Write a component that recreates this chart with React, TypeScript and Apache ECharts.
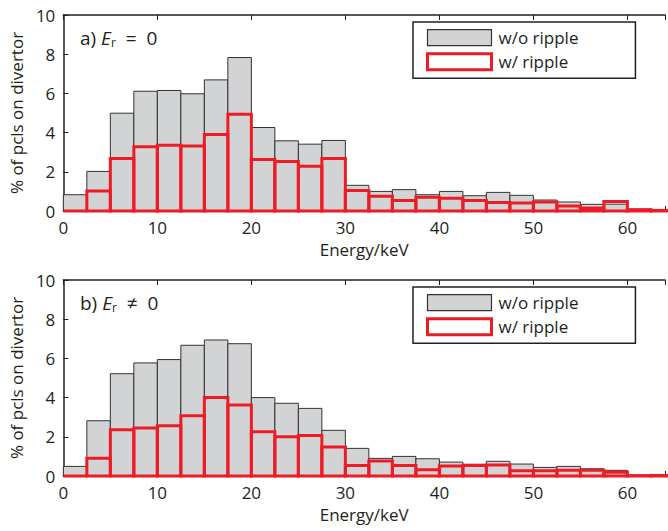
import React, { useEffect, useRef } from "react";
import * as echarts from "echarts";

const binStart = [0, 2.5, 5, 7.5, 10, 12.5, 15, 17.5, 20, 22.5, 25, 27.5, 30, 32.5, 35, 37.5, 40, 42.5, 45, 47.5, 50, 52.5, 55, 57.5, 60, 62.5];
const binWidth = 2.5;

const noRippleA = [0.83, 2.02, 4.99, 6.11, 6.15, 5.98, 6.69, 7.83, 4.26, 3.58, 3.41, 3.6, 1.31, 1.0, 1.09, 0.83, 1.0, 0.78, 0.95, 0.8, 0.56, 0.46, 0.34, 0.35, 0.07, 0.03];
const rippleA = [0.0, 1.02, 2.68, 3.28, 3.36, 3.31, 3.9, 4.94, 2.63, 2.53, 2.28, 2.68, 1.05, 0.75, 0.53, 0.7, 0.65, 0.53, 0.44, 0.41, 0.46, 0.25, 0.15, 0.48, 0.07, 0.03];
const noRippleB = [0.49, 2.82, 5.22, 5.77, 5.94, 6.67, 6.94, 6.75, 4.0, 3.71, 3.45, 2.33, 1.41, 0.9, 1.0, 0.88, 0.71, 0.6, 0.75, 0.61, 0.44, 0.49, 0.37, 0.29, 0.02, 0.02];
const rippleB = [0.0, 0.9, 2.36, 2.45, 2.57, 3.08, 4.0, 3.62, 2.26, 2.0, 2.07, 1.48, 0.54, 0.76, 0.54, 0.32, 0.51, 0.53, 0.56, 0.27, 0.27, 0.29, 0.29, 0.19, 0.02, 0.03];

const yTicks = [0, 2, 4, 6, 8, 10];
const xTickLabels = [0, 10, 20, 30, 40, 50, 60];
const seriesNames = ["w/o ripple", "w/ ripple"];

const GRAY = "#d1d3d4";
const RED = "#ed1c24";
const INK = "#231f20";
const FONT = "Open Sans";

function histData(vals: number[]) {
  return binStart.map((s, i) => [s, s + binWidth, vals[i]]);
}

function makeRender(fill: string, stroke: string, lw: number) {
  return (params: any, api: any) => {
    const x0 = api.value(0);
    const x1 = api.value(1);
    const y = api.value(2);
    const p0 = api.coord([x0, 0]);
    const p1 = api.coord([x1, y]);
    return {
      type: "rect",
      shape: { x: p0[0], y: p1[1], width: p1[0] - p0[0], height: p0[1] - p1[1] },
      style: { fill, stroke, lineWidth: lw },
    };
  };
}

export default function App() {
  const ref = useRef<HTMLDivElement>(null);
  useEffect(() => {
    const chart = echarts.init(ref.current!, null, { renderer: "svg" });
    const grids = [
      { left: 63, top: 15, width: 605, height: 196 },
      { left: 63, top: 280, width: 605, height: 196 },
    ];
    const xAxes: any[] = [];
    const yAxes: any[] = [];
    [0, 1].forEach((g) => {
      xAxes.push({
        type: "value",
        gridIndex: g,
        min: 0,
        max: 64,
        interval: 10,
        position: "bottom",
        splitLine: { show: false },
        axisLine: { show: true, onZero: false, lineStyle: { color: INK, width: 1.5 } },
        axisTick: { show: true, inside: true, length: 5, lineStyle: { color: INK } },
        axisLabel: {
          color: INK,
          fontFamily: FONT,
          fontSize: 17,
          margin: 8,
          formatter: (v: number) => (xTickLabels.includes(v) ? String(v) : ""),
        },
        name: "Energy/keV",
        nameLocation: "middle",
        nameGap: 30,
        nameTextStyle: { color: INK, fontFamily: FONT, fontSize: 17 },
      });
      xAxes.push({
        type: "value",
        gridIndex: g,
        min: 0,
        max: 64,
        interval: 10,
        position: "top",
        splitLine: { show: false },
        axisLine: { show: true, onZero: false, lineStyle: { color: INK, width: 1.5 } },
        axisTick: { show: true, inside: true, length: 5, lineStyle: { color: INK } },
        axisLabel: { show: false },
      });
      yAxes.push({
        type: "value",
        gridIndex: g,
        min: yTicks[0],
        max: yTicks[yTicks.length - 1],
        interval: 2,
        splitLine: { show: false },
        axisLine: { show: true, lineStyle: { color: INK, width: 1.5 } },
        axisTick: { show: true, inside: true, length: 5, lineStyle: { color: INK } },
        axisLabel: { color: INK, fontFamily: FONT, fontSize: 17, margin: 8 },
        name: "% of pcls on divertor",
        nameLocation: "middle",
        nameGap: 35,
        nameRotate: 90,
        nameTextStyle: { color: INK, fontFamily: FONT, fontSize: 17 },
      });
    });

    const mk = (name: string, vals: number[], g: number, fill: string, stroke: string, lw: number, z: number) => ({
      type: "custom",
      name,
      xAxisIndex: g * 2,
      yAxisIndex: g,
      data: histData(vals),
      renderItem: makeRender(fill, stroke, lw),
      encode: { x: [0, 1], y: 2 },
      z,
      clip: false,
    });

    const legendData = [
      { name: seriesNames[0], icon: "rect", itemStyle: { color: GRAY, borderColor: "#333", borderWidth: 1.2 } },
      { name: seriesNames[1], icon: "rect", itemStyle: { color: "#fff", borderColor: RED, borderWidth: 3 } },
    ];
    const legendBase = {
      orient: "vertical",
      left: 413,
      backgroundColor: "#fff",
      borderColor: INK,
      borderWidth: 1.5,
      padding: [7, 57, 7, 13],
      itemGap: 6,
      itemWidth: 64,
      itemHeight: 16,
      selectedMode: false,
      textStyle: { color: INK, fontFamily: FONT, fontSize: 17, padding: [0, 0, 0, 2] },
      data: legendData,
    };

    const label = (prefix: string, rel: string, top: number) => ({
      type: "text",
      left: 80,
      top,
      style: {
        text: `{n|${prefix} }{i|E}{s|r}{n|  ${rel}  0}`,
        rich: {
          n: { fontFamily: FONT, fontSize: 19, fill: INK },
          i: { fontFamily: FONT, fontSize: 19, fontStyle: "italic", fill: INK },
          s: { fontFamily: FONT, fontSize: 12, fill: INK, padding: [9, 0, 0, 0] },
        },
      },
    });

    chart.setOption({
      animation: false,
      grid: grids,
      xAxis: xAxes,
      yAxis: yAxes,
      legend: [
        { ...legendBase, top: 22 },
        { ...legendBase, top: 287 },
      ],
      graphic: [label("a)", "=", 28), label("b)", "≠", 293)],
      series: [
        mk(seriesNames[0], noRippleA, 0, GRAY, "#333", 1, 3),
        mk(seriesNames[1], rippleA, 0, "none", RED, 3, 4),
        mk(seriesNames[0], noRippleB, 1, GRAY, "#333", 1, 3),
        mk(seriesNames[1], rippleB, 1, "none", RED, 3, 4),
      ],
    });
    return () => chart.dispose();
  }, []);
  return <div ref={ref} style={{ width: 668, height: 531, position: "absolute", left: 0, top: 0, background: "#fff" }} />;
}
